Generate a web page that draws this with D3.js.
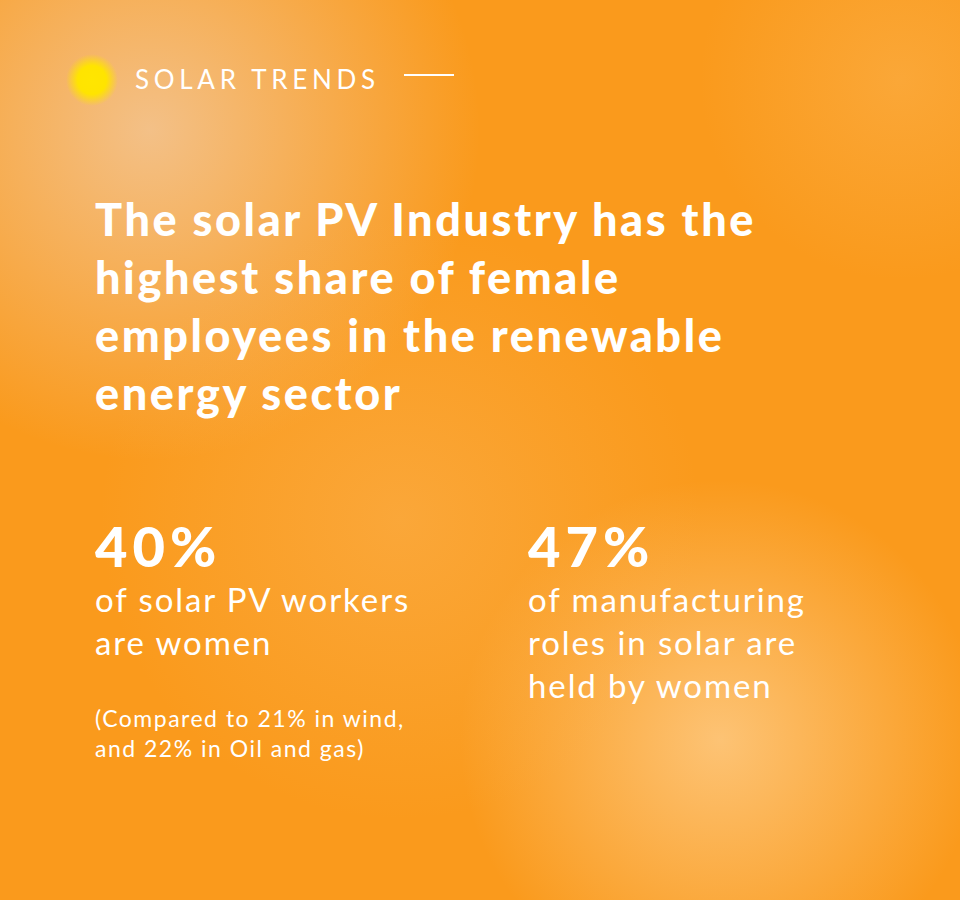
<!DOCTYPE html>
<html>
<head>
<meta charset="utf-8">
<script src="https://cdn.jsdelivr.net/npm/d3@7"></script>
<style>
  body { margin: 0; }
  svg { display: block; font-family: Lato, "Open Sans", sans-serif; }
</style>
</head>
<body>
<svg id="chart" width="960" height="900"></svg>
<script>
const kicker = "SOLAR TRENDS";
const titleLines = [
  "The solar PV Industry has the",
  "highest share of female",
  "employees in the renewable",
  "energy sector"
];
const statValues = ["40%", "47%"];
const statLabels = [
  ["of solar PV workers", "are women"],
  ["of manufacturing", "roles in solar are", "held by women"]
];
const noteLines = ["(Compared to 21% in wind,", "and 22% in Oil and gas)"];

const svg = d3.select("#chart");
const defs = svg.append("defs");

// background glows
const glows = [
  { id: "g1", cx: 150, cy: 130, r: 330, color: "#f2c79a", op: 0.85 },
  { id: "g2", cx: 720, cy: 740, r: 260, color: "#fdc579", op: 0.95 },
  { id: "g3", cx: 900, cy: 80, r: 200, color: "#fbb04a", op: 0.6 },
  { id: "g4", cx: 400, cy: 520, r: 300, color: "#fbb456", op: 0.5 }
];
glows.forEach(g => {
  const rg = defs.append("radialGradient").attr("id", g.id);
  rg.append("stop").attr("offset", "0%").attr("stop-color", g.color).attr("stop-opacity", g.op);
  rg.append("stop").attr("offset", "100%").attr("stop-color", g.color).attr("stop-opacity", 0);
});
const sun = defs.append("radialGradient").attr("id", "sun");
sun.append("stop").attr("offset", "0%").attr("stop-color", "#ffe600");
sun.append("stop").attr("offset", "55%").attr("stop-color", "#ffe400");
sun.append("stop").attr("offset", "100%").attr("stop-color", "#ffe400").attr("stop-opacity", 0);

svg.append("rect").attr("width", 960).attr("height", 900).attr("fill", "#fa9a1c");
svg.selectAll("circle.glow").data(glows).enter().append("circle")
  .attr("class", "glow")
  .attr("cx", d => d.cx).attr("cy", d => d.cy).attr("r", d => d.r)
  .attr("fill", d => `url(#${d.id})`);

svg.append("circle").attr("cx", 92).attr("cy", 80).attr("r", 26).attr("fill", "url(#sun)");

// kicker
svg.append("text").attr("x", 135).attr("y", 89)
  .attr("fill", "#fff").attr("font-size", 26).attr("letter-spacing", 4.7)
  .text(kicker);
svg.append("line").attr("x1", 404).attr("x2", 454).attr("y1", 75).attr("y2", 75)
  .attr("stroke", "#fff").attr("stroke-width", 2);

// title
svg.append("g").selectAll("text").data(titleLines).enter().append("text")
  .attr("x", 95).attr("y", (d, i) => 236 + i * 58)
  .attr("fill", "#fff").attr("font-size", 45).attr("font-weight", 900)
  .attr("letter-spacing", 2.6)
  .text(d => d);

// stats
const cols = [95, 528];
statValues.forEach((v, i) => {
  const g = svg.append("g").attr("transform", `translate(${cols[i]},0)`);
  g.append("text").attr("y", 567).attr("fill", "#fff")
    .attr("font-size", 56).attr("font-weight", 900).attr("letter-spacing", 5).text(v);
  g.selectAll("text.lbl").data(statLabels[i]).enter().append("text")
    .attr("class", "lbl").attr("y", (d, j) => 612 + j * 43)
    .attr("fill", "#fff").attr("font-size", 33).attr("letter-spacing", 1.9).text(d => d);
});

svg.append("g").selectAll("text").data(noteLines).enter().append("text")
  .attr("x", 95).attr("y", (d, i) => 727 + i * 30)
  .attr("fill", "#fff").attr("font-size", 23).attr("letter-spacing", 1.5).text(d => d);
</script>
</body>
</html>
